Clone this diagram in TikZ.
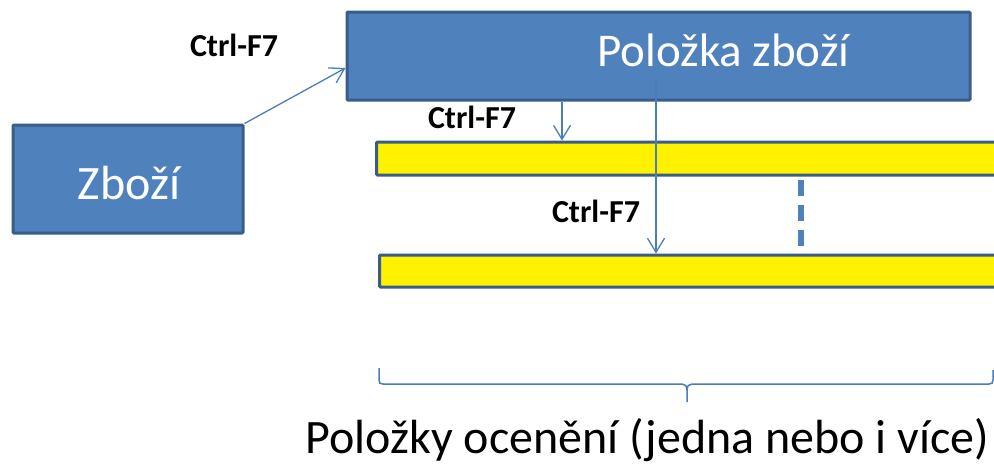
\documentclass[tikz,border=0pt]{standalone}
\usepackage{fontspec}
\setmainfont{Carlito}
\usetikzlibrary{arrows.meta}
\definecolor{boxfill}{HTML}{4F81BD}
\definecolor{boxline}{HTML}{385D8A}
\definecolor{arrcol}{HTML}{4A7EBB}
\tikzset{
  bluebox/.style={draw=boxline, fill=boxfill, line width=3pt, inner sep=0pt, rounded corners=1pt},
  yellowbar/.style={draw=boxline, fill=yellow, line width=3pt, inner sep=0pt, rounded corners=1pt},
  arr/.style={draw=arrcol, line width=1.3pt, -{Straight Barb[length=14pt,width=17pt,line width=1.3pt]}},
  keylabel/.style={font=\fontsize{32}{36}\selectfont\bfseries, text=black, inner sep=0pt},
  boxtext/.style={font=\fontsize{47}{52}\selectfont, text=white, inner sep=0pt},
  bracestyle/.style={draw=arrcol, line width=1.5pt},
}
\begin{document}
\begin{tikzpicture}[x=1pt,y=-1pt]
\useasboundingbox (0,0) rectangle (994,464);
\clip (0,0) rectangle (994,464);
% boxes
\node[bluebox, minimum width=230pt, minimum height=108pt] (zb) at (128,179) {};
\node[boxtext, font=\fontsize{48}{52}\selectfont] (zbt) at (129,183) {Zboží};
\node[bluebox, minimum width=623pt, minimum height=88pt] (pz) at (658.5,56) {};
\node[boxtext] (pzt) at (723.5,50) {Položka zboží};
% yellow bars
\node[yellowbar, minimum width=640pt, minimum height=33pt, anchor=west] (b1) at (375,158.5) {};
\node[yellowbar, minimum width=640pt, minimum height=32pt, anchor=west] (b2) at (378,271) {};
% labels
\node[keylabel] (k1) at (234,45) {Ctrl-F7};
\node[keylabel] (k2) at (472,117) {Ctrl-F7};
\node[keylabel] (k3) at (596,211) {Ctrl-F7};
% connectors
\coordinate (x1) at (562,0);
\coordinate (x2) at (656,0);
\draw[arr] (zb.north east) -- ([yshift=-12pt]pz.west);
\draw[arr] (pz.south -| x1) -- (b1.north -| x1);
\draw[arr] ([yshift=22pt]pz.south -| x2) -- (b2.north -| x2);
\coordinate (dd) at (801,0);
\draw[draw=boxfill, line width=6pt, dash pattern=on 16pt off 9pt] ([yshift=-3pt]b1.south -| dd) -- ([yshift=1.5pt]b2.north -| dd);
% brace
\draw[bracestyle] (379,368) -- (379,380) .. controls (379,383) and (380,384) .. (383,384)
  -- (682,384) .. controls (685,384) and (687,386) .. (687,390) -- (687,402);
\draw[bracestyle] (687,390) .. controls (687,386) and (689,384) .. (692,384)
  -- (989,384) .. controls (992,384) and (993,383) .. (993,380) -- (993,370);
\node[font=\fontsize{48}{54}\selectfont, text=black, inner sep=0pt] (lbl) at (647.5,440) {Položky ocenění (jedna nebo i více)};
\end{tikzpicture}
\end{document}
